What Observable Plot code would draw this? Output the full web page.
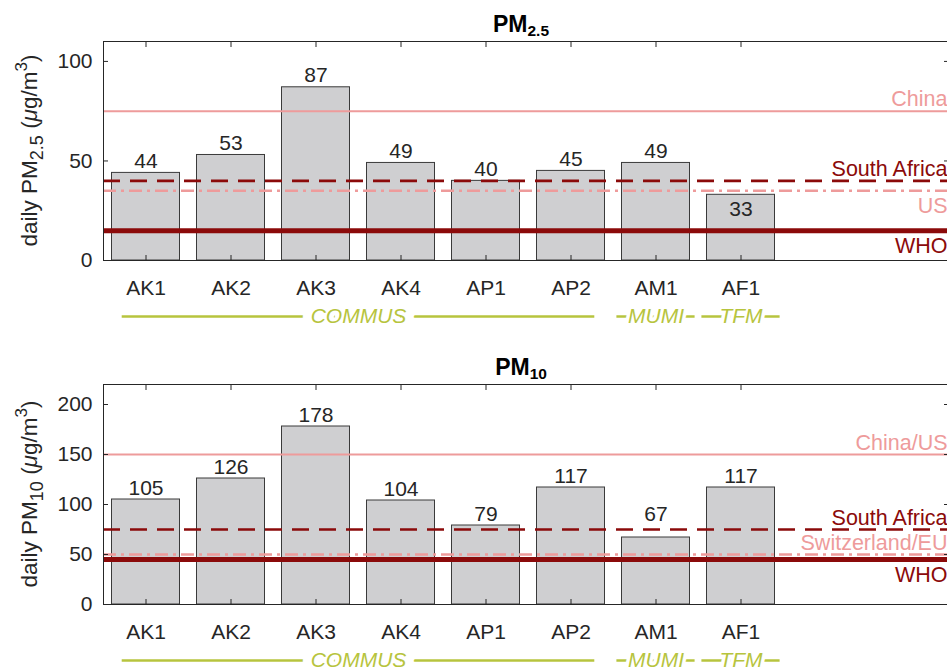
<!DOCTYPE html>
<html>
<head>
<meta charset="utf-8">
<script src="https://cdn.jsdelivr.net/npm/d3@7"></script>
<script src="https://cdn.jsdelivr.net/npm/@observablehq/plot@0.6"></script>
<style>
  body { margin: 0; background: #fff; }
  svg { display: block; }
</style>
</head>
<body>
<div id="chart"></div>
<script>
// ---- data ----
const sites = ["AK1", "AK2", "AK3", "AK4", "AP1", "AP2", "AM1", "AF1"];
const pm25 = [44, 53, 87, 49, 40, 45, 49, 33];
const pm10 = [105, 126, 178, 104, 79, 117, 67, 117];

const pm25LimitNames = ["China", "South Africa", "US", "WHO"];
const pm25LimitValues = [75, 40, 35, 15];
const pm10LimitNames = ["China/US", "South Africa", "Switzerland/EU", "WHO"];
const pm10LimitValues = [150, 75, 50, 45];

const groupNames = ["COMMUS", "MUMI", "TFM"];
const groupFirstSite = [1, 7, 8];
const groupLastSite = [6, 7, 8];

const pm25YTicks = [0, 50, 100];
const pm10YTicks = [0, 50, 100, 150, 200];

// ---- styles ----
const LIGHT = "#ee9b9b";
const DARK = "#8b0a0a";
const GREEN = "#b7c43e";
const INK = "#262626";
const FONT = "'Liberation Sans', Arial, Helvetica, sans-serif";
const FS = 21;
const lineStyles = [
  {color: LIGHT, width: 2, dash: null},
  {color: DARK, width: 2.6, dash: "17,10"},
  {color: LIGHT, width: 2.4, dash: "13,5,3,5"},
  {color: DARK, width: 5, dash: null}
];

function panel(o) {
  const bars = sites.map((s, i) => {
    const v = o.values[i];
    // value-label placement: on top of the bar; moved when limit lines crowd it
    const near = o.limitValues.filter(L => L > v && (L - v) * o.pxPerUnit <= 16);
    let place = "top", anchorV = v;
    if (near.length > 1) place = "inside";
    else if (near.length === 1) { place = "line"; anchorV = near[0]; }
    return {site: s, i: i + 1, v, place, anchorV};
  });
  const limits = o.limitNames.map((n, k) => ({name: n, value: o.limitValues[k], ...lineStyles[k], side: o.labelSide[k]}));
  const groups = groupNames.map((g, k) => ({label: g, first: groupFirstSite[k], last: groupLastSite[k]}));
  const xt = d3.range(1, sites.length + 1);
  const ext = d => d.first === d.last ? 0.46 : 0.28;

  const svg = Plot.plot({
    width: 947,
    height: 335,
    marginLeft: 103,
    marginRight: -1,
    marginTop: o.marginTop,
    marginBottom: o.marginBottom,
    style: {fontFamily: FONT, fontSize: FS + "px", color: INK, background: "white", overflow: "hidden"},
    x: {domain: [0.5, 0.5 + 845 / 85], axis: null},
    y: {domain: [0, o.yMax], axis: null},
    marks: [
      Plot.rectY(bars, {x1: d => d.i - 0.4, x2: d => d.i + 0.4, y1: 0, y2: "v", fill: "#cfcfd1", stroke: "#3a3a3a", strokeWidth: 1}),
      ...limits.map(l => Plot.ruleY([l], {y: "value", stroke: l.color, strokeWidth: l.width, strokeDasharray: l.dash})),
      ...limits.map(l => Plot.text([l], {
        y: "value", text: "name", frameAnchor: "right", textAnchor: "end",
        lineAnchor: l.side === "above" ? "bottom" : "top",
        dx: -1, dy: l.side === "above" ? -5 : 7,
        fill: l.color, fontSize: 21.5
      })),
      Plot.text(bars.filter(d => d.place === "top"), {x: "i", y: "anchorV", text: d => String(d.v), lineAnchor: "bottom", dy: -5, fill: INK, fontSize: FS}),
      Plot.text(bars.filter(d => d.place === "line"), {x: "i", y: "anchorV", text: d => String(d.v), lineAnchor: "bottom", dy: -9, fill: INK, fontSize: FS}),
      Plot.text(bars.filter(d => d.place === "inside"), {x: "i", y: "v", text: d => String(d.v), lineAnchor: "top", dy: 6, fill: INK, fontSize: FS}),
      // group labels below the axis
      Plot.ruleY(groups, {y: 0, x1: d => d.first - ext(d), x2: d => d.last + ext(d), dy: 56, stroke: GREEN, strokeWidth: 2.5}),
      Plot.text(groups, {
        x: d => (d.first + d.last) / 2, y: 0, text: "label", dy: 56, lineAnchor: "middle",
        fill: GREEN, stroke: "white", strokeWidth: d => d.first === d.last ? 7 : 18,
        fontStyle: "italic", fontSize: FS
      }),
      // frame (left, bottom, top)
      Plot.ruleX([0.5], {stroke: INK, strokeWidth: 1}),
      Plot.ruleY([0, o.yMax], {stroke: INK, strokeWidth: 1}),
      // axes with inward ticks
      Plot.axisX({anchor: "bottom", ticks: xt, tickFormat: d => sites[d - 1], tickSize: -5, tickPadding: 25, label: null, fontSize: FS}),
      Plot.axisX({anchor: "top", ticks: xt, tickFormat: () => "", tickSize: -5, label: null}),
      Plot.axisY({anchor: "left", ticks: o.yTicks, tickSize: -5, tickPadding: 16, label: null, fontSize: FS}),
      Plot.axisY({anchor: "right", ticks: o.yTicks, tickFormat: () => "", tickSize: -5, label: null})
    ]
  });

  const s = d3.select(svg);

  // title
  const t = s.append("text")
    .attr("x", 521).attr("y", o.marginTop - 9)
    .attr("text-anchor", "middle")
    .attr("font-family", FONT).attr("font-weight", "bold").attr("font-size", 23)
    .attr("fill", "black");
  t.append("tspan").text("PM");
  t.append("tspan").attr("font-size", 15.5).attr("dy", 4).text(o.sub);

  // y label
  const cy = (o.marginTop + (335 - o.marginBottom)) / 2;
  const yl = s.append("text")
    .attr("transform", `translate(37,${cy}) rotate(-90)`)
    .attr("text-anchor", "middle")
    .attr("font-family", FONT).attr("font-size", 22.5)
    .attr("fill", INK);
  yl.append("tspan").text("daily PM");
  yl.append("tspan").attr("font-size", 18).attr("dy", 6).text(o.sub);
  yl.append("tspan").attr("dy", -6).text(" (");
  yl.append("tspan").attr("font-style", "italic").text("\u03bc");
  yl.append("tspan").text("g/m");
  yl.append("tspan").attr("font-size", 17).attr("dy", -10).text("3");
  yl.append("tspan").attr("dy", 10).text(")");
  return svg;
}

const root = document.getElementById("chart");
root.appendChild(panel({
  values: pm25, limitNames: pm25LimitNames, limitValues: pm25LimitValues,
  labelSide: ["above", "above", "below", "below"], pxPerUnit: 2,
  yMax: 110, yTicks: pm25YTicks, marginTop: 41, marginBottom: 75, sub: "2.5"
}));
root.appendChild(panel({
  values: pm10, limitNames: pm10LimitNames, limitValues: pm10LimitValues,
  labelSide: ["above", "above", "above", "below"], pxPerUnit: 1,
  yMax: 220, yTicks: pm10YTicks, marginTop: 49, marginBottom: 66, sub: "10"
}));
</script>
</body>
</html>
